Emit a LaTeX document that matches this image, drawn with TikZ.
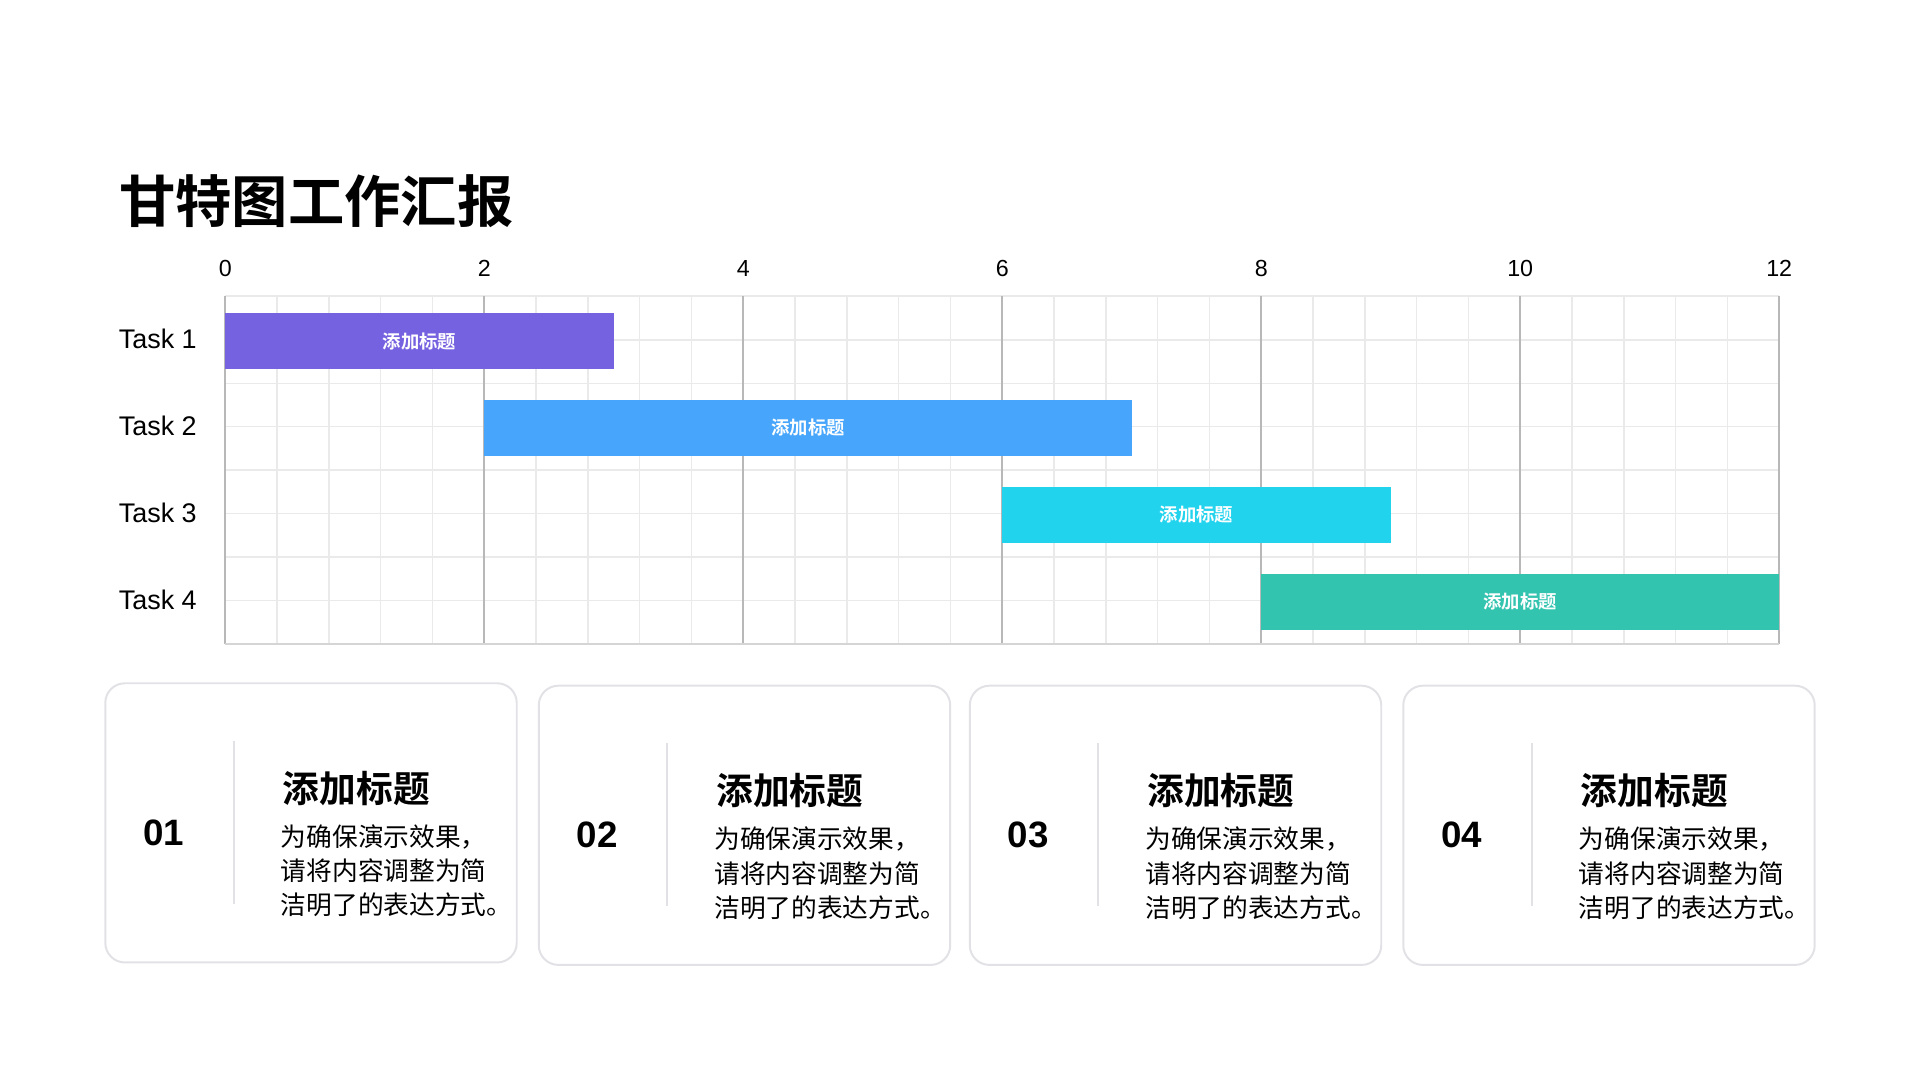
\documentclass[tikz,border=0pt]{standalone}
\usepackage{fontspec}
\setmainfont{Liberation Sans}
\newfontfamily\cjk{Noto Sans CJK SC}
\newfontfamily\cjkb{Noto Sans CJK SC Bold}
\definecolor{cA}{HTML}{7562E0}
\definecolor{cB}{HTML}{47A6FB}
\definecolor{cC}{HTML}{22D3EE}
\definecolor{cD}{HTML}{33C4B0}
\definecolor{gminor}{HTML}{EAEAEA}
\definecolor{gmajor}{HTML}{B8B8B8}
\definecolor{cardline}{HTML}{E2E2E6}
\tikzset{
 bar/.style={minimum height=23pt,inner sep=0pt,text=white,font=\cjkb\fontsize{7.5}{9}\selectfont},
 tick/.style={font=\fontsize{9.5}{11}\selectfont},
 tasklbl/.style={anchor=west,font=\fontsize{11}{13}\selectfont},
 card/.style={draw=cardline,line width=0.8pt,rounded corners=8pt,fill=white},
 num/.style={anchor=west,font=\bfseries\fontsize{15}{17}\selectfont},
 head/.style={anchor=west,font=\cjkb\fontsize{15}{17}\selectfont},
 body/.style={anchor=north west,align=left,font=\cjk\fontsize{10.5}{14}\selectfont,inner sep=0pt}
}
\begin{document}
\begin{tikzpicture}[x=0.5pt,y=-0.5pt]
\useasboundingbox[fill=white] (0,0) rectangle (1568,882);
\node[anchor=west,font=\cjkb\fontsize{23}{26}\selectfont,inner sep=0pt] (title) at (97,164) {甘特图工作汇报};
% grid
\foreach \i in {1,...,29}{\draw[gminor,line width=0.6pt] ({184+\i*42.3},242) -- ({184+\i*42.3},526);}
\foreach \j in {1,...,7}{\draw[gminor,line width=0.6pt] (184,{242+\j*35.5}) -- (1453,{242+\j*35.5});}
\draw[gminor,line width=0.8pt] (184,242) -- (1453,242);
\foreach \k in {0,...,6}{
  \draw[gmajor,line width=0.8pt] ({184+\k*211.5},242) -- ({184+\k*211.5},526);
  \pgfmathtruncatemacro\lab{2*\k}
  \node[tick] (t\k) at ({184+\k*211.5},219) {\lab};
}
\draw[gminor!80!gray,line width=0.8pt] (184,526) -- (1453,526);
% bars
\node[bar,fill=cA,minimum width=158.625pt] at ({184+1.5*105.75},278.5) (b1) {添加标题};
\node[bar,fill=cB,minimum width=264.375pt] at ({184+4.5*105.75},349.5) (b2) {添加标题};
\node[bar,fill=cC,minimum width=158.625pt] at ({184+7.5*105.75},420.5) (b3) {添加标题};
\node[bar,fill=cD,minimum width=211.5pt] at ({184+10*105.75},491.5) (b4) {添加标题};
\node[tasklbl] (l1) at (90,277) {Task 1};
\node[tasklbl] (l2) at (90,348) {Task 2};
\node[tasklbl] (l3) at (90,419) {Task 3};
\node[tasklbl] (l4) at (90,490) {Task 4};
% cards
\foreach \x/\y/\n in {86/558/01,440/560/02,792/560/03,1146/560/04}{
  \draw[card] (\x,\y) rectangle ++(336,228);
  \draw[cardline,line width=0.8pt] (\x+105,\y+47) -- (\x+105,\y+180);
  \node[num] (n\n) at (\x+24,\y+122) {\n};
  \node[head] (h\n) at (\x+138,\y+86) {添加标题};
  \node[body] (p\n) at (\x+143,\y+115) {为确保演示效果，\\请将内容调整为简\\洁明了的表达方式。};
}
\end{tikzpicture}
\end{document}
